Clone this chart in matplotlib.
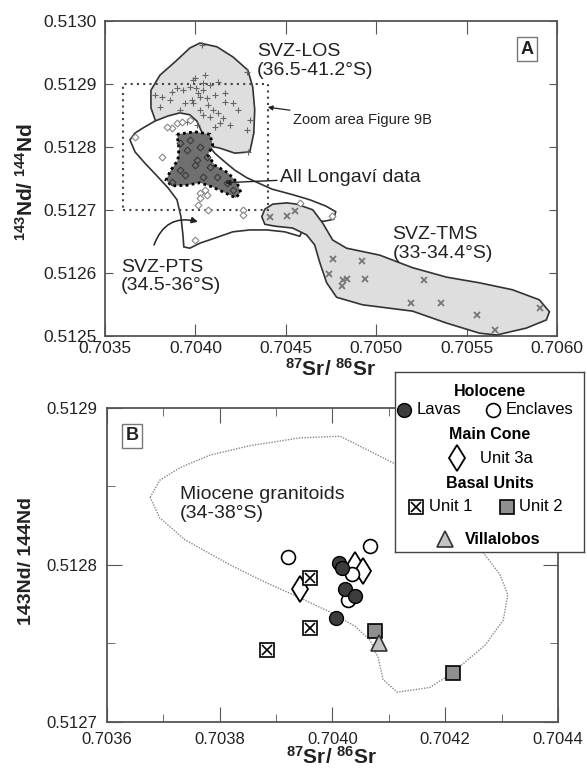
import matplotlib
matplotlib.use('Agg')
import matplotlib.pyplot as plt
from matplotlib.patches import Polygon, Rectangle

plt.rcParams['font.family'] = ['Liberation Sans', 'DejaVu Sans']
plt.rcParams['mathtext.default'] = 'regular'

# ---------------- Panel A: regional SVZ fields ----------------
# SVZ-LOS field outline
los_field_x = [0.704025, 0.704119, 0.704207, 0.704290, 0.704317, 0.704328, 0.704323,
               0.704301, 0.704218, 0.704135, 0.704052, 0.703942, 0.703842, 0.703787,
               0.703754, 0.703754, 0.703804, 0.703887, 0.703969]
los_field_y = [0.512965, 0.512959, 0.512943, 0.512922, 0.512895, 0.512859, 0.512822,
               0.512792, 0.512790, 0.512798, 0.512803, 0.512808, 0.512814, 0.512835,
               0.512862, 0.512890, 0.512914, 0.512935, 0.512957]

# SVZ-PTS field outline
pts_field_x = [0.703638, 0.703666, 0.703710, 0.703776, 0.703848, 0.703914, 0.703969,
               0.704008, 0.704030, 0.704063, 0.704107, 0.704163, 0.704218, 0.704284,
               0.704345, 0.704422, 0.704538, 0.704632, 0.704721, 0.704776, 0.704765,
               0.704715, 0.704643, 0.704599, 0.704577, 0.704494, 0.704395, 0.704301,
               0.704207, 0.704107, 0.704025, 0.703969, 0.703936, 0.703931, 0.703920,
               0.703898, 0.703848, 0.703787, 0.703721, 0.703666]
pts_field_y = [0.512811, 0.512822, 0.512830, 0.512841, 0.512849, 0.512854, 0.512851,
               0.512841, 0.512827, 0.512806, 0.512790, 0.512776, 0.512763, 0.512751,
               0.512743, 0.512733, 0.512724, 0.512716, 0.512706, 0.512697, 0.512685,
               0.512682, 0.512681, 0.512671, 0.512658, 0.512665, 0.512668, 0.512668,
               0.512665, 0.512655, 0.512647, 0.512639, 0.512641, 0.512660, 0.512689,
               0.512716, 0.512735, 0.512754, 0.512774, 0.512792]

# SVZ-TMS field outline
tms_field_x = [0.704367, 0.704384, 0.704428, 0.704505, 0.704560, 0.704649, 0.704704,
               0.704759, 0.704836, 0.705019, 0.705201, 0.705389, 0.705571, 0.705753,
               0.705902, 0.705958, 0.705941, 0.705830, 0.705665, 0.705571, 0.705389,
               0.705201, 0.704925, 0.704781, 0.704726, 0.704687, 0.704660, 0.704616,
               0.704538, 0.704439, 0.704384]
tms_field_y = [0.512689, 0.512701, 0.512709, 0.512711, 0.512709, 0.512700, 0.512679,
               0.512652, 0.512639, 0.512628, 0.512608, 0.512593, 0.512584, 0.512573,
               0.512557, 0.512538, 0.512525, 0.512512, 0.512501, 0.512504, 0.512520,
               0.512539, 0.512549, 0.512561, 0.512584, 0.512617, 0.512644, 0.512660,
               0.512671, 0.512674, 0.512677]

# field enclosing all Longavi samples
longavi_field_x = [0.703898, 0.703997, 0.704080, 0.704096, 0.704069, 0.704107, 0.704179,
                   0.704229, 0.704251, 0.704223, 0.704163, 0.704096, 0.704025, 0.703953,
                   0.703870, 0.703837, 0.703864, 0.703903, 0.703909]
longavi_field_y = [0.512820, 0.512824, 0.512820, 0.512803, 0.512787, 0.512771, 0.512759,
                   0.512744, 0.512728, 0.512719, 0.512727, 0.512736, 0.512743, 0.512739,
                   0.512738, 0.512747, 0.512763, 0.512779, 0.512798]

los_sr = [0.704036, 0.704284, 0.703997, 0.704041, 0.704080, 0.704124, 0.703969, 0.703931,
          0.703870, 0.703776, 0.703815, 0.704014, 0.704041, 0.704025, 0.703980, 0.704063,
          0.704107, 0.704163, 0.704163, 0.703942, 0.703986, 0.704069, 0.704096, 0.704025,
          0.703914, 0.703804, 0.704124, 0.704152, 0.704080, 0.704041, 0.704301, 0.704190,
          0.704284, 0.704135, 0.704107, 0.704008, 0.703953, 0.704207, 0.704290, 0.703986,
          0.703898, 0.704052, 0.704234, 0.704003, 0.703859]
los_nd = [0.512962, 0.512919, 0.512909, 0.512901, 0.512898, 0.512903, 0.512895, 0.512890,
          0.512887, 0.512882, 0.512879, 0.512886, 0.512890, 0.512879, 0.512874, 0.512877,
          0.512882, 0.512886, 0.512871, 0.512870, 0.512870, 0.512867, 0.512859, 0.512859,
          0.512859, 0.512863, 0.512854, 0.512846, 0.512847, 0.512851, 0.512843, 0.512835,
          0.512827, 0.512838, 0.512832, 0.512835, 0.512840, 0.512870, 0.512792, 0.512906,
          0.512894, 0.512914, 0.512859, 0.512894, 0.512874]

tms_sr = [0.704411, 0.704505, 0.704549, 0.704759, 0.704919, 0.704737, 0.704814, 0.704836,
          0.704809, 0.704936, 0.705267, 0.705195, 0.705356, 0.705560, 0.705659, 0.705908]
tms_nd = [0.512689, 0.512690, 0.512698, 0.512622, 0.512619, 0.512598, 0.512589, 0.512590,
          0.512579, 0.512590, 0.512589, 0.512552, 0.512552, 0.512533, 0.512509, 0.512544]

pts_sr = [0.703666, 0.703815, 0.703898, 0.703925, 0.703870, 0.703842, 0.704025, 0.704052,
          0.704063, 0.704025, 0.704014, 0.704069, 0.704262, 0.704262, 0.703997, 0.704577,
          0.704754, 0.703969]
pts_nd = [0.512816, 0.512784, 0.512838, 0.512840, 0.512830, 0.512832, 0.512727, 0.512731,
          0.512723, 0.512719, 0.512708, 0.512700, 0.512700, 0.512692, 0.512652, 0.512711,
          0.512690, 0.512843]

longavi_sr = [0.703914, 0.703953, 0.704025, 0.704008, 0.704063, 0.703914, 0.703870,
              0.704080, 0.704119, 0.704041, 0.704174, 0.704207, 0.703969, 0.703997, 0.703942]
longavi_nd = [0.512806, 0.512795, 0.512800, 0.512779, 0.512784, 0.512763, 0.512744,
              0.512768, 0.512752, 0.512752, 0.512743, 0.512731, 0.512811, 0.512771, 0.512755]

zoom_box = (0.7036, 0.7044, 0.5127, 0.5129)

# ---------------- Panel B: Longavi samples ----------------
lavas_sr = [0.704011, 0.704017, 0.704022, 0.704040, 0.704006]
lavas_nd = [0.512801, 0.512798, 0.512785, 0.512780, 0.512766]
enclaves_sr = [0.704066, 0.703922, 0.704034, 0.704027]
enclaves_nd = [0.512812, 0.512805, 0.512794, 0.512778]
unit3a_sr = [0.704040, 0.703943, 0.704054]
unit3a_nd = [0.512800, 0.512785, 0.512796]
unit1_sr = [0.703960, 0.703960, 0.703884]
unit1_nd = [0.512792, 0.512760, 0.512746]
unit2_sr = [0.704076, 0.704213]
unit2_nd = [0.512758, 0.512731]
villalobos_sr = [0.704083]
villalobos_nd = [0.512750]

granitoid_x = [0.703677, 0.703694, 0.703730, 0.703783, 0.703854, 0.703943, 0.704014,
               0.704108, 0.704173, 0.704235, 0.704267, 0.704297, 0.704311, 0.704303,
               0.704271, 0.704212, 0.704173, 0.704115, 0.704090, 0.704081, 0.704067,
               0.704040, 0.703996, 0.703943, 0.703881, 0.703819, 0.703739, 0.703694]
granitoid_y = [0.512843, 0.512854, 0.512862, 0.512870, 0.512876, 0.512881, 0.512882,
               0.512865, 0.512854, 0.512835, 0.512808, 0.512794, 0.512781, 0.512765,
               0.512749, 0.512731, 0.512722, 0.512719, 0.512727, 0.512741, 0.512752,
               0.512761, 0.512770, 0.512779, 0.512789, 0.512800, 0.512816, 0.512830]

SPINE = '#555555'
TXT = '#222222'

fig = plt.figure(figsize=(5.87, 7.72), dpi=100)
ax_a = fig.add_axes([0.1789, 0.5652, 0.7700, 0.4076])
ax_b = fig.add_axes([0.1818, 0.0648, 0.7688, 0.4067])

for ax in (ax_a, ax_b):
    for s in ax.spines.values():
        s.set_color(SPINE)
        s.set_linewidth(1.3)
    ax.tick_params(which='both', direction='in', top=True, right=True,
                   color=SPINE, labelcolor=TXT, labelsize=12.5)

# --- panel A ---
ax_a.add_patch(Polygon(list(zip(los_field_x, los_field_y)), closed=True,
                       fc='#dedede', ec='#333333', lw=1.2, zorder=1))
ax_a.add_patch(Polygon(list(zip(pts_field_x, pts_field_y)), closed=True,
                       fc='white', ec='#333333', lw=1.2, zorder=2))
ax_a.add_patch(Polygon(list(zip(tms_field_x, tms_field_y)), closed=True,
                       fc='#dedede', ec='#333333', lw=1.2, zorder=3))
ax_a.add_patch(Polygon(list(zip(longavi_field_x, longavi_field_y)), closed=True,
                       fc='#707070', ec='black', lw=2.0, ls=(0, (1, 1.2)), zorder=4))

x0, x1, y0, y1 = zoom_box
ax_a.add_patch(Rectangle((x0, y0), x1 - x0, y1 - y0, fill=False, ec='#444444',
                         lw=1.5, ls=(0, (1, 2)), zorder=5))

ax_a.plot(los_sr, los_nd, '+', ms=4.5, mew=0.8, color='#666666', zorder=6)
ax_a.plot(tms_sr, tms_nd, 'x', ms=4, mew=1.3, color='#777777', zorder=6)
ax_a.plot(pts_sr, pts_nd, 'D', ms=3.5, mfc='white', mec='#888888', mew=0.8, zorder=6)
ax_a.plot(longavi_sr, longavi_nd, 'D', ms=3.5, mfc='none', mec='#3a3a3a', mew=0.8, zorder=6)

ax_a.set_xlim(0.7035, 0.7060)
ax_a.set_ylim(0.5125, 0.5130)
ax_a.set_xticks([0.7035, 0.7040, 0.7045, 0.7050, 0.7055, 0.7060])
ax_a.set_yticks([0.5125, 0.5126, 0.5127, 0.5128, 0.5129, 0.5130])
ax_a.xaxis.set_major_formatter(plt.FormatStrFormatter('%.4f'))
ax_a.yaxis.set_major_formatter(plt.FormatStrFormatter('%.4f'))
ax_a.tick_params(axis='x', length=9, pad=4)
ax_a.tick_params(axis='y', length=6, pad=6)

ax_a.text(0.704339, 0.512937, 'SVZ-LOS\n(36.5-41.2°S)', fontsize=14, color=TXT,
          ha='left', va='center', linespacing=1.15)
ax_a.text(0.705090, 0.512646, 'SVZ-TMS\n(33-34.4°S)', fontsize=14, color=TXT,
          ha='left', va='center', linespacing=1.15)
ax_a.text(0.703588, 0.512594, 'SVZ-PTS\n(34.5-36°S)', fontsize=14, color=TXT,
          ha='left', va='center', linespacing=1.15)
ax_a.annotate('All Longaví data', xy=(0.704163, 0.512743), xytext=(0.704466, 0.512752),
              fontsize=14, color=TXT, ha='left', va='center', zorder=7,
              arrowprops=dict(arrowstyle='-|>', color='#222222', lw=1.0,
                              mutation_scale=8, shrinkA=0, shrinkB=0))
ax_a.annotate('Zoom area Figure 9B', xy=(0.704400, 0.512863), xytext=(0.704538, 0.512843),
              fontsize=10.5, color=TXT, ha='left', va='center',
              arrowprops=dict(arrowstyle='-|>', color='#222222', lw=0.9,
                              mutation_scale=7, shrinkA=0, shrinkB=0))
ax_a.annotate('', xy=(0.704014, 0.512681), xytext=(0.703771, 0.512644),
              arrowprops=dict(arrowstyle='-|>', color='#222222', lw=1.1,
                              mutation_scale=9, shrinkA=0, shrinkB=0,
                              connectionstyle='arc3,rad=-0.45'))
ax_a.text(0.934, 0.911, 'A', transform=ax_a.transAxes, fontsize=13, fontweight='bold',
          ha='center', va='center', color=TXT,
          bbox=dict(boxstyle='square,pad=0.2', fc='white', ec='#777777', lw=1))

# --- panel B ---
ax_b.fill(granitoid_x, granitoid_y, fill=False, ec='#888888', lw=1.0,
          ls=(0, (1, 1)), zorder=1)
ax_b.text(0.70373, 0.512839, 'Miocene granitoids\n(34-38°S)', fontsize=14, color=TXT,
          ha='left', va='center', linespacing=1.15)

ax_b.plot(unit3a_sr, unit3a_nd, 'd', ms=13, mfc='white', mec='black', mew=1.3, ls='none', zorder=3)
ax_b.plot(enclaves_sr, enclaves_nd, 'o', ms=10, mfc='white', mec='black', mew=1.2, ls='none', zorder=4)
ax_b.plot(lavas_sr, lavas_nd, 'o', ms=10, mfc='#3c3c3c', mec='black', mew=1.0, ls='none', zorder=5)
ax_b.plot(unit1_sr, unit1_nd, 's', ms=9.5, mfc='white', mec='black', mew=1.2, ls='none', zorder=5)
ax_b.plot(unit1_sr, unit1_nd, 'x', ms=7, mec='black', mew=1.2, ls='none', zorder=6)
ax_b.plot(unit2_sr, unit2_nd, 's', ms=10, mfc='#8f8f8f', mec='black', mew=1.2, ls='none', zorder=5)
ax_b.plot(villalobos_sr, villalobos_nd, '^', ms=12, mfc='#c4c4c4', mec='#333333', mew=1.2,
          ls='none', zorder=6)

ax_b.set_xlim(0.7036, 0.7044)
ax_b.set_ylim(0.5127, 0.5129)
ax_b.set_xticks([0.7036, 0.7038, 0.7040, 0.7042, 0.7044])
ax_b.set_xticks([0.7037, 0.7039, 0.7041, 0.7043], minor=True)
ax_b.set_yticks([0.5127, 0.5128, 0.5129])
ax_b.set_yticks([0.51275, 0.51285], minor=True)
ax_b.xaxis.set_major_formatter(plt.FormatStrFormatter('%.4f'))
ax_b.yaxis.set_major_formatter(plt.FormatStrFormatter('%.4f'))
ax_b.tick_params(which='major', length=11, pad=7)
ax_b.tick_params(which='minor', length=6)
ax_b.tick_params(labelsize=12)
ax_b.text(0.056, 0.911, 'B', transform=ax_b.transAxes, fontsize=13, fontweight='bold',
          ha='center', va='center', color=TXT,
          bbox=dict(boxstyle='square,pad=0.2', fc='white', ec='#777777', lw=1))

# axis titles
fig.text(331 / 587, 1 - 369 / 772, r'$^{87}$Sr/ $^{86}$Sr', fontsize=15, fontweight='bold',
         ha='center', va='center', color=TXT)
fig.text(332 / 587, 1 - 757 / 772, r'$^{87}$Sr/ $^{86}$Sr', fontsize=15, fontweight='bold',
         ha='center', va='center', color=TXT)
fig.text(26 / 587, 1 - 182 / 772, r'$^{143}$Nd/ $^{144}$Nd', fontsize=15, fontweight='bold',
         rotation=90, ha='center', va='center', color=TXT)
fig.text(27 / 587, 1 - 561 / 772, '143Nd/ 144Nd', fontsize=14, fontweight='bold',
         rotation=90, ha='center', va='center', color=TXT)

# legend box for panel B
lg = fig.add_axes([0.6729, 0.2850, 0.3220, 0.2332], zorder=10)
lg.set_xlim(0, 1)
lg.set_ylim(0, 1)
lg.set_xticks([])
lg.set_yticks([])
for s in lg.spines.values():
    s.set_color('#444444')
    s.set_linewidth(1.0)

lg.text(0.50, 0.894, 'Holocene', fontsize=11.5, fontweight='bold', ha='center', va='center')
lg.plot([0.048], [0.789], 'o', ms=10, mfc='#3c3c3c', mec='black', mew=1.0)
lg.text(0.115, 0.789, 'Lavas', fontsize=12, ha='left', va='center')
lg.plot([0.519], [0.789], 'o', ms=10, mfc='white', mec='black', mew=1.2)
lg.text(0.585, 0.789, 'Enclaves', fontsize=12, ha='left', va='center')
lg.text(0.50, 0.650, 'Main Cone', fontsize=11.5, fontweight='bold', ha='center', va='center')
lg.plot([0.328], [0.522], 'd', ms=13, mfc='white', mec='black', mew=1.3)
lg.text(0.450, 0.522, 'Unit 3a', fontsize=12, ha='left', va='center')
lg.text(0.50, 0.378, 'Basal Units', fontsize=11.5, fontweight='bold', ha='center', va='center')
lg.plot([0.111], [0.25], 's', ms=9.5, mfc='white', mec='black', mew=1.2)
lg.plot([0.111], [0.25], 'x', ms=7, mec='black', mew=1.2)
lg.text(0.180, 0.25, 'Unit 1', fontsize=12, ha='left', va='center')
lg.plot([0.593], [0.25], 's', ms=10, mfc='#8f8f8f', mec='black', mew=1.2)
lg.text(0.656, 0.25, 'Unit 2', fontsize=12, ha='left', va='center')
lg.plot([0.265], [0.072], '^', ms=12, mfc='#c4c4c4', mec='#333333', mew=1.2)
lg.text(0.370, 0.072, 'Villalobos', fontsize=11.5, fontweight='bold', ha='left', va='center')

fig.savefig('out.png', dpi=100)
